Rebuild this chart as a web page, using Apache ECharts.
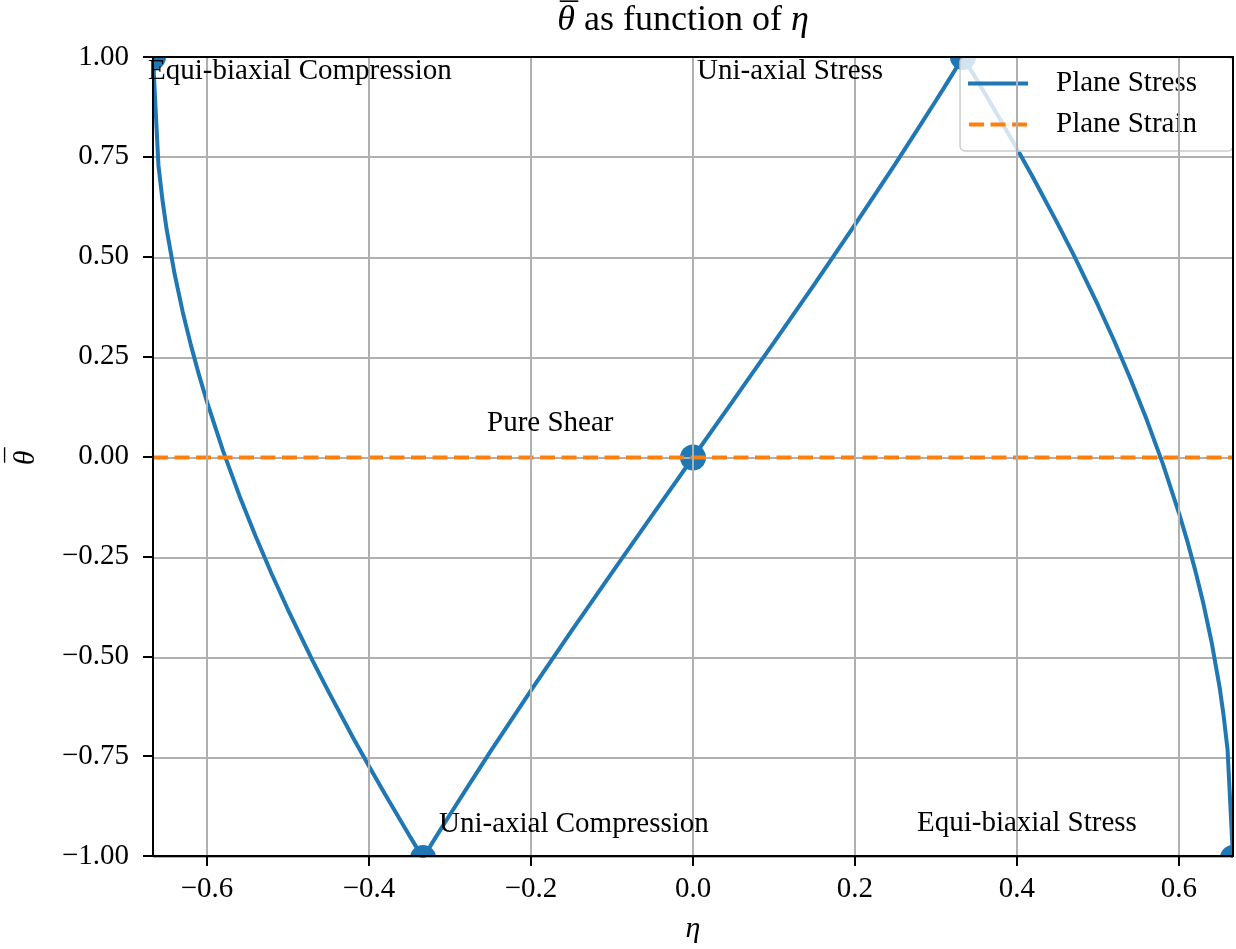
<!DOCTYPE html>
<html><head><meta charset="utf-8">
<script src="https://cdn.jsdelivr.net/npm/echarts@6/dist/echarts.min.js"></script>
<style>html,body{margin:0;padding:0;background:#fff}#c{width:1236px;height:949px}</style>
</head><body><div id="c"></div>
<script>
// ---- data ----
const etaStress = [-0.6667,-0.66,-0.655,-0.65,-0.64,-0.63,-0.62,-0.61,-0.60,-0.58,-0.56,-0.54,-0.52,-0.50,-0.47,-0.45,-0.42,-0.40,-0.38,-0.35,-0.34,-0.3333,-0.32,-0.31,-0.30,-0.28,-0.25,-0.20,-0.15,-0.10,-0.05,0,0.05,0.10,0.15,0.20,0.25,0.28,0.30,0.31,0.32,0.3333,0.34,0.35,0.38,0.40,0.42,0.45,0.47,0.50,0.52,0.54,0.56,0.58,0.60,0.61,0.62,0.63,0.64,0.65,0.655,0.66,0.6667];
const thetaStress = [1.0,0.7298,0.6426,0.5713,0.4581,0.3635,0.2812,0.2068,0.1386,0.0153,-0.0953,-0.1968,-0.2914,-0.3802,-0.5058,-0.5845,-0.6984,-0.7710,-0.8417,-0.9444,-0.9778,-1.0,-0.9560,-0.9236,-0.8915,-0.8279,-0.7337,-0.5817,-0.4331,-0.2875,-0.1434,0,0.1434,0.2875,0.4331,0.5817,0.7337,0.8279,0.8915,0.9236,0.9560,1.0,0.9778,0.9444,0.8417,0.7710,0.6984,0.5845,0.5058,0.3802,0.2914,0.1968,0.0953,-0.0153,-0.1386,-0.2068,-0.2812,-0.3635,-0.4581,-0.5713,-0.6426,-0.7298,-1.0];
const etaStrain = [-0.6667, 0.6667];
const thetaStrain = [0, 0];
const markerEta = [-0.6667, -0.3333, 0, 0.3333, 0.6667];
const markerTheta = [1, -1, 0, 1, -1];
const noteTexts = ['Equi-biaxial Compression', 'Uni-axial Stress', 'Pure Shear', 'Uni-axial Compression', 'Equi-biaxial Stress'];
const noteEta = [-0.6728, 0.005, -0.2543, -0.3136, 0.2765];
const noteTheta = [0.965, 0.965, 0.086, -0.915, -0.913];
const xTicks = [-0.6, -0.4, -0.2, 0, 0.2, 0.4, 0.6];
const xMin = -0.6667, xMax = 0.6667;
const yMin = -1, yMax = 1, yStep = 0.25;
const titleParts = ['\u03B8', ' as function of ', '\u03B7'];
const yName = '\u03B8';
const xName = '\u03B7';
const MACRON = '\u00AF';

// ---- layout / style ----
const FONT = "'Liberation Serif', 'DejaVu Serif', serif";
const G = {left: 153, top: 57, width: 1080, height: 801};
const BLUE = '#1f77b4', ORANGE = '#ff7f0e', GRID = '#b0b0b0';
const W = 1236, H = 949;
function fmt(v, d) { return (v < -1e-9 ? '\u2212' : '') + Math.abs(v).toFixed(d); }
function zip(a, b) { return a.map((v, i) => [v, b[i]]); }
const mctx = document.createElement('canvas').getContext('2d');
function tw(s, font) { mctx.font = font; return mctx.measureText(s).width; }

// title layout (text measured, centred above the plot)
const TFS = 36;
const fItal = 'italic ' + TFS + 'px ' + FONT, fNorm = TFS + 'px ' + FONT;
const wParts = [tw(titleParts[0], fItal), tw(titleParts[1], fNorm), tw(titleParts[2], fItal)];
const tTotal = wParts[0] + wParts[1] + wParts[2];
const tLeft = 683 - tTotal / 2, tY = 21;
const titleEls = [
  {type: 'text', z: 10, silent: true, x: tLeft, y: tY,
   style: {text: titleParts[0], font: fItal, fill: '#000', align: 'left', verticalAlign: 'middle'}},
  {type: 'text', z: 10, silent: true, x: tLeft + wParts[0] / 2 + 3, y: tY - 2,
   style: {text: MACRON, font: fNorm, fill: '#000', align: 'center', verticalAlign: 'middle'}},
  {type: 'text', z: 10, silent: true, x: tLeft + wParts[0], y: tY,
   style: {text: titleParts[1], font: fNorm, fill: '#000', align: 'left', verticalAlign: 'middle'}},
  {type: 'text', z: 10, silent: true, x: tLeft + wParts[0] + wParts[1], y: tY,
   style: {text: titleParts[2], font: fItal, fill: '#000', align: 'left', verticalAlign: 'middle'}}
];
const yNameEl = {type: 'group', z: 10, x: 26, y: 458, rotation: Math.PI / 2, children: [
  {type: 'text', z: 10, silent: true, x: 0, y: 0,
   style: {text: yName, font: 'italic 30px ' + FONT, fill: '#000', align: 'center', verticalAlign: 'middle'}},
  {type: 'text', z: 10, silent: true, x: 3, y: -8,
   style: {text: MACRON, font: '30px ' + FONT, fill: '#000', align: 'center', verticalAlign: 'middle'}}
]};

const chart = echarts.init(document.getElementById('c'), null, {renderer: 'canvas'});
const option = {
  animation: false,
  backgroundColor: '#ffffff',
  legend: {
    data: [
      {name: 'Plane Stress', icon: 'path://M0,0h60v4h-60z', itemStyle: {color: BLUE}},
      {name: 'Plane Strain', icon: 'path://M0,0h15v4h-15z M21.5,0h15v4h-15z M43,0h15v4h-15z', itemStyle: {color: ORANGE}}
    ],
    orient: 'vertical', right: 3, top: 57, z: 4,
    padding: [12, 36, 12, 8], itemGap: 12, itemWidth: 60, itemHeight: 4,
    backgroundColor: 'rgba(255,255,255,0.8)', borderColor: '#cccccc', borderWidth: 1.5, borderRadius: 5,
    textStyle: {fontFamily: FONT, fontSize: 29, color: '#000', lineHeight: 29, padding: [0, 0, 0, 23]}
  },
  grid: [
    Object.assign({containLabel: false}, G),
    Object.assign({containLabel: false}, G)
  ],
  xAxis: [
    {gridIndex: 0, type: 'value', min: xMin, max: xMax, z: 2,
     axisLine: {show: false}, axisTick: {show: false}, axisLabel: {show: false}, splitLine: {show: false}},
    {gridIndex: 1, type: 'value', position: 'bottom', min: xMin, max: xMax, z: 10,
     name: xName, nameLocation: 'middle', nameGap: 58,
     nameTextStyle: {fontFamily: FONT, fontSize: 30, fontStyle: 'italic', color: '#000'},
     axisLine: {show: true, onZero: false, lineStyle: {color: '#000', width: 2}},
     axisTick: {show: true, customValues: xTicks, length: 10, lineStyle: {color: '#000', width: 2}},
     axisLabel: {show: true, customValues: xTicks, margin: 19, fontFamily: FONT, fontSize: 29, color: '#000',
       formatter: v => fmt(v, 1)},
     splitLine: {show: false}},
    {gridIndex: 1, type: 'value', position: 'top', min: xMin, max: xMax, z: 10,
     axisLine: {show: true, onZero: false, lineStyle: {color: '#000', width: 2}},
     axisTick: {show: false}, axisLabel: {show: false}, splitLine: {show: false}}
  ],
  yAxis: [
    {gridIndex: 0, type: 'value', min: yMin, max: yMax, interval: yStep, z: 2,
     axisLine: {show: false}, axisTick: {show: false}, axisLabel: {show: false},
     splitLine: {show: true, lineStyle: {color: GRID, width: 2}}},
    {gridIndex: 1, type: 'value', position: 'left', min: yMin, max: yMax, interval: yStep, z: 10,
     axisLine: {show: true, onZero: false, lineStyle: {color: '#000', width: 2}},
     axisTick: {show: true, length: 10, lineStyle: {color: '#000', width: 2}},
     axisLabel: {show: true, margin: 24, fontFamily: FONT, fontSize: 29, color: '#000',
       formatter: v => fmt(v, 2)},
     splitLine: {show: false}},
    {gridIndex: 1, type: 'value', position: 'right', min: yMin, max: yMax, interval: yStep, z: 10,
     axisLine: {show: true, onZero: false, lineStyle: {color: '#000', width: 2}},
     axisTick: {show: false}, axisLabel: {show: false}, splitLine: {show: false}}
  ],
  graphic: {elements: [
    {type: 'rect', z: 5, silent: true, shape: {x: 0, y: 0, width: W, height: G.top}, style: {fill: '#fff'}},
    {type: 'rect', z: 5, silent: true, shape: {x: 0, y: G.top + G.height, width: W, height: H - G.top - G.height}, style: {fill: '#fff'}},
    {type: 'rect', z: 5, silent: true, shape: {x: 0, y: 0, width: G.left, height: H}, style: {fill: '#fff'}},
    {type: 'rect', z: 5, silent: true, shape: {x: G.left + G.width, y: 0, width: W - G.left - G.width, height: H}, style: {fill: '#fff'}}
  ].concat(titleEls, [yNameEl])},
  series: [
    {name: 'markers', type: 'scatter', xAxisIndex: 0, yAxisIndex: 0, z: 1, clip: false, silent: true,
     symbol: 'circle', symbolSize: 26, itemStyle: {color: BLUE, opacity: 1},
     data: zip(markerEta, markerTheta)},
    {name: 'vgrid', type: 'line', xAxisIndex: 0, yAxisIndex: 0, z: 2, silent: true, data: [],
     markLine: {silent: true, symbol: ['none', 'none'], label: {show: false}, animation: false,
       lineStyle: {color: GRID, width: 2, type: 'solid'},
       data: xTicks.map(v => ({xAxis: v}))}},
    {name: 'Plane Stress', type: 'line', xAxisIndex: 0, yAxisIndex: 0, z: 3, symbol: 'none', silent: true,
     lineStyle: {color: BLUE, width: 4}, itemStyle: {color: BLUE},
     data: zip(etaStress, thetaStress)},
    {name: 'Plane Strain', type: 'line', xAxisIndex: 0, yAxisIndex: 0, z: 3, symbol: 'none', silent: true,
     lineStyle: {color: ORANGE, width: 4, type: [15, 6.5]}, itemStyle: {color: ORANGE},
     data: zip(etaStrain, thetaStrain)},
    {name: 'notes', type: 'scatter', xAxisIndex: 0, yAxisIndex: 0, z: 6, clip: false, silent: true,
     symbolSize: 0, itemStyle: {color: 'transparent'},
     label: {show: true, position: 'right', distance: 0, formatter: '{b}', opacity: 1,
       fontFamily: FONT, fontSize: 29, color: '#000', textBorderWidth: 0},
     data: noteTexts.map((t, i) => ({name: t, value: [noteEta[i], noteTheta[i]]}))}
  ]
};
chart.setOption(option);
</script>
</body></html>
